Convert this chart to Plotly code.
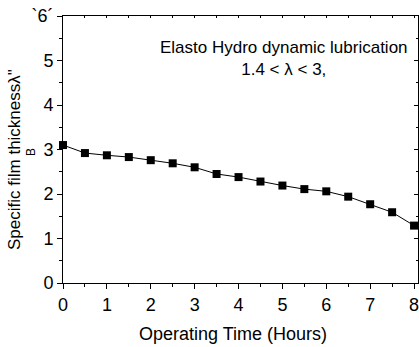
import plotly.graph_objects as go

hours = [0, 0.5, 1, 1.5, 2, 2.5, 3, 3.5, 4, 4.5, 5, 5.5, 6, 6.5, 7, 7.5, 8]
thickness = [3.10, 2.92, 2.87, 2.83, 2.76, 2.69, 2.60, 2.45, 2.38, 2.28, 2.19, 2.11, 2.06, 1.94, 1.77, 1.59, 1.29]

x_ticks = [0, 1, 2, 3, 4, 5, 6, 7, 8]
y_ticks = [0, 1, 2, 3, 4, 5, 6]
y_ticktext = ["0", "1", "2", "3", "4", "5", "`6´"]

FONT = "Liberation Sans, Arial, sans-serif"
fs = 17

fig = go.Figure()
fig.add_trace(go.Scatter(
    x=hours, y=thickness, mode="lines+markers",
    line=dict(color="black", width=1),
    marker=dict(symbol="square", size=8, color="black"),
    showlegend=False, hoverinfo="skip", cliponaxis=False))
# invisible trace to anchor mirror axes
fig.add_trace(go.Scatter(x=[0], y=[0], xaxis="x2", yaxis="y2", mode="markers",
                         marker=dict(opacity=0), showlegend=False, hoverinfo="skip"))

common = dict(showgrid=False, zeroline=False, linecolor="black", linewidth=1,
              tickcolor="black", tickwidth=1)
XR = [0, 8.09]

fig.update_layout(
    width=419, height=347,
    margin=dict(l=63, r=1, t=16, b=64),
    paper_bgcolor="white", plot_bgcolor="white",
    font=dict(family=FONT, size=fs, color="black"),
    xaxis=dict(range=XR, tickvals=x_ticks, ticks="outside", ticklen=5,
               ticklabeloverflow="allow",
               minor=dict(dtick=0.5, tick0=0, ticks="outside", ticklen=3, tickcolor="black"),
               tickfont=dict(size=18), **common),
    yaxis=dict(range=[0, 6], tickvals=y_ticks, ticktext=y_ticktext, ticks="outside", ticklen=5,
               minor=dict(dtick=0.5, tick0=0, ticks="outside", ticklen=3, tickcolor="black"),
               tickfont=dict(size=18), **common),
    xaxis2=dict(range=XR, overlaying="x", side="top", anchor="y2",
                tickvals=x_ticks, ticks="inside", ticklen=2, showticklabels=False,
                minor=dict(dtick=0.5, tick0=0, ticks="inside", ticklen=2, tickcolor="black"),
                **common),
    yaxis2=dict(range=[0, 6], overlaying="y", side="right", anchor="x2",
                tickvals=y_ticks, ticks="inside", ticklen=4, showticklabels=False,
                minor=dict(dtick=0.5, tick0=0, ticks="inside", ticklen=2, tickcolor="black"),
                **common),
    annotations=[
        dict(text="Elasto Hydro dynamic lubrication<br>1.4 < λ < 3,", xref="paper", yref="paper",
             x=(284 - 63) / 355, y=(283 - 58) / 267, xanchor="center", yanchor="middle",
             showarrow=False, align="center", font=dict(size=fs, family=FONT)),
        dict(text="Operating Time (Hours)", xref="paper", yref="paper",
             x=(233 - 63) / 355, y=-(334 - 283) / 267, xanchor="center", yanchor="middle",
             showarrow=False, font=dict(size=18, family=FONT)),
        dict(text="Specific film thicknessλ\"", xref="paper", yref="paper",
             x=-(63 - 14) / 355, y=(283 - 160) / 267, xanchor="center", yanchor="middle",
             showarrow=False, textangle=-90, font=dict(size=fs, family=FONT)),
        dict(text="B", xref="paper", yref="paper",
             x=-(63 - 31) / 355, y=(283 - 152) / 267, xanchor="center", yanchor="middle",
             showarrow=False, textangle=-90, font=dict(size=12, family=FONT)),
    ],
)

fig.write_html("out.html")
